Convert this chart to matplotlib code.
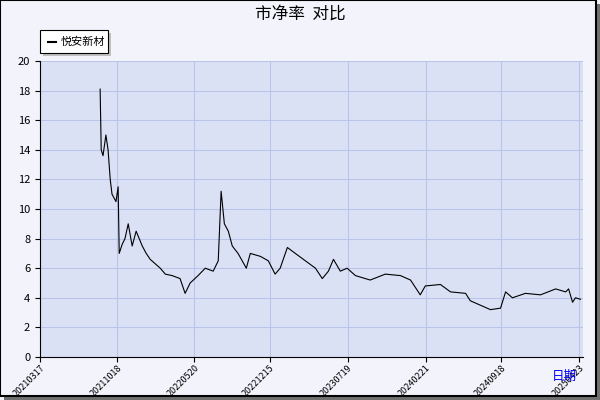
import matplotlib
matplotlib.use('Agg')
import matplotlib.pyplot as plt
import pandas as pd
from matplotlib.patches import Rectangle

plt.rcParams['font.family'] = ['Noto Sans CJK SC', 'DejaVu Sans']

START = pd.Timestamp('2021-03-17')
# days since 2021-03-17
day_offsets = [167, 170, 175, 183, 189, 195, 200, 211, 217, 220, 228, 236, 245, 256, 267,
               284, 295, 306, 334, 348, 367, 389, 403, 417, 439, 459, 481, 495, 503, 512,
               523, 534, 550, 573, 584, 612, 634, 653, 667, 687, 709, 737, 765, 784, 801,
               815, 834, 853, 876, 917, 959, 1001, 1029, 1056, 1070, 1112, 1140, 1182, 1195,
               1223, 1251, 1279, 1293, 1312, 1348, 1390, 1432, 1460, 1468, 1479, 1487, 1501]
pb_values = [18.1, 14.0, 13.6, 15.0, 14.0, 12.0, 11.0, 10.5, 11.5, 7.0, 7.6, 8.0, 9.0, 7.5,
             8.5, 7.5, 7.0, 6.6, 6.0, 5.6, 5.5, 5.3, 4.3, 5.0, 5.5, 6.0, 5.8, 6.5, 11.2, 9.0,
             8.5, 7.5, 7.0, 6.0, 7.0, 6.8, 6.5, 5.6, 6.0, 7.4, 7.0, 6.5, 6.0, 5.3, 5.8, 6.6,
             5.8, 6.0, 5.5, 5.2, 5.6, 5.5, 5.2, 4.2, 4.8, 4.9, 4.4, 4.3, 3.8, 3.5, 3.2, 3.3,
             4.4, 4.0, 4.3, 4.2, 4.6, 4.4, 4.6, 3.7, 4.0, 3.9]
tick_labels = ['20210317', '20211018', '20220520', '20221215', '20230719',
               '20240221', '20240918', '20250423']
series_name = '悦安新材'

dates = [START + pd.Timedelta(days=d) for d in day_offsets]
tick_dates = [pd.Timestamp(t) for t in tick_labels]

fig = plt.figure(figsize=(6, 4), dpi=100)
fig.patch.set_facecolor('#f3f3fb')
# shadow + frame
fig.add_artist(Rectangle((4/600, 0), 596/600, 396/400, transform=fig.transFigure,
                         facecolor='#707070', edgecolor='none', zorder=-2))
fig.add_artist(Rectangle((0, 4/400), 596/600, 396/400, transform=fig.transFigure,
                         facecolor='#f3f3fb', edgecolor='black', lw=1.5, zorder=-1))

ax = fig.add_axes([40/600, 43/400, 543/600, 296/400])
ax.set_facecolor('#dbe1f5')
ax.plot(dates, pb_values, color='black', lw=0.8)
ax.set_ylim(0, 20)
ax.set_yticks(range(0, 21, 2))
ax.set_xlim(START, tick_dates[-1] + pd.Timedelta(days=10))
ax.set_xticks(tick_dates)
ax.set_xticklabels(tick_labels, rotation=45, ha='right', rotation_mode='anchor', fontsize=6.5)
ax.tick_params(axis='x', pad=1)
ax.tick_params(axis='y', labelsize=8)
ax.grid(True, color='#b8c4e8', lw=0.8)
for s in ['top', 'right']:
    ax.spines[s].set_visible(False)

fig.text(0.5, 0.965, '市净率  对比', ha='center', va='center', fontsize=12)
fig.text(0.94, 0.06, '日期', ha='center', va='center', fontsize=9, color='blue')

# legend box
fig.add_artist(Rectangle((43/600, 344/400), 68/600, 23/400, transform=fig.transFigure,
                         facecolor='#c0c0c0', edgecolor='none'))
fig.add_artist(Rectangle((40/600, 347/400), 68/600, 23/400, transform=fig.transFigure,
                         facecolor='white', edgecolor='black', lw=0.8))
fig.add_artist(plt.Line2D([48/600, 56/600], [358/400, 358/400], color='black', lw=1.5))
fig.text(61/600, 358/400, series_name, va='center', fontsize=8)

fig.savefig('out.png', dpi=100)
